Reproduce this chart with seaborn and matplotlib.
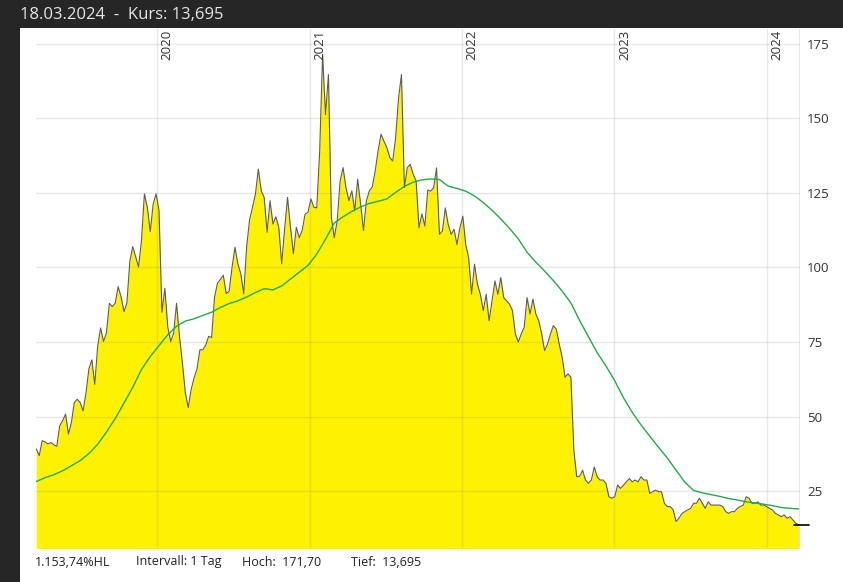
import matplotlib
matplotlib.use('Agg')
import matplotlib.pyplot as plt
import matplotlib.transforms as mtransforms
from matplotlib.patches import Rectangle
import pandas as pd
import seaborn as sns

# weekly closes, 18.03.2019 - 18.03.2024
kurs = [39.1, 36.9, 41.9, 41.5, 40.8, 41.3, 40.5, 40.0, 46.9, 48.6,
        50.8, 44.1, 48.0, 54.7, 55.8, 54.7, 51.9, 58.0, 66.0, 69.0,
        60.8, 73.6, 79.7, 75.2, 78.0, 88.0, 86.9, 88.0, 93.6, 90.2,
        85.2, 88.0, 102.0, 107.0, 103.6, 100.2, 109.1, 124.7, 120.2, 112.0,
        121.3, 124.7, 119.1, 85.0, 93.0, 80.0, 75.2, 78.0, 88.0, 77.0,
        68.0, 58.0, 53.0, 59.1, 63.0, 66.0, 72.4, 72.4, 74.0, 76.9,
        76.5, 90.0, 94.7, 96.0, 97.4, 91.3, 92.0, 100.1, 106.8, 101.2,
        97.9, 91.2, 107.0, 116.0, 120.2, 124.6, 133.0, 125.7, 123.5, 111.8,
        122.4, 114.6, 117.0, 113.5, 101.2, 113.0, 123.5, 113.5, 104.6, 113.5,
        110.0, 112.4, 117.9, 118.5, 123.0, 120.2, 120.0, 139.1, 171.4, 151.3,
        164.7, 116.8, 110.0, 115.7, 129.1, 133.5, 126.8, 122.4, 125.7, 119.0,
        129.6, 121.3, 112.4, 122.4, 125.7, 127.0, 132.4, 139.1, 144.7, 142.4,
        140.2, 136.9, 135.7, 143.5, 156.9, 164.7, 126.8, 133.5, 134.6, 131.3,
        129.1, 113.3, 118.0, 113.9, 126.0, 125.6, 126.7, 133.4, 111.1, 112.2,
        120.0, 114.4, 111.1, 112.8, 107.7, 113.3, 117.2, 107.7, 103.3, 91.0,
        101.1, 94.4, 91.0, 85.5, 91.0, 82.1, 88.8, 95.5, 91.0, 96.6,
        89.9, 88.8, 87.7, 85.5, 77.7, 75.0, 77.7, 79.9, 89.9, 84.4,
        89.4, 84.4, 82.1, 77.7, 72.1, 74.3, 77.7, 80.5, 79.3, 74.3,
        69.9, 63.2, 64.3, 63.2, 38.7, 29.8, 30.0, 32.0, 28.7, 27.6,
        28.7, 33.1, 29.8, 28.7, 28.7, 27.6, 23.1, 22.6, 23.1, 27.0,
        25.9, 27.0, 28.1, 29.2, 28.1, 28.7, 28.1, 29.8, 28.7, 28.7,
        24.2, 24.8, 25.3, 24.8, 24.8, 20.9, 19.8, 19.8, 18.7, 14.8,
        15.9, 17.5, 18.1, 18.7, 19.2, 20.9, 20.9, 22.6, 20.9, 19.2,
        21.4, 20.3, 20.3, 20.3, 20.3, 19.8, 18.1, 17.5, 18.1, 18.1,
        19.2, 19.8, 20.3, 23.1, 22.6, 20.9, 20.9, 21.4, 20.3, 20.3,
        19.8, 19.2, 18.7, 17.5, 17.0, 16.4, 17.0, 15.9, 16.4, 15.3,
        14.2, 13.695]

# moving average (green line), one value every 21 days
gd200 = [28.2, 29.5, 30.5, 31.8, 33.5, 35.2, 37.6, 40.7, 44.8, 49.3,
         54.5, 59.8, 65.8, 70.1, 73.8, 77.4, 80.3, 82.0, 82.8, 83.9,
         85.0, 86.6, 87.9, 88.8, 90.1, 91.6, 92.9, 92.5, 93.8, 96.1,
         98.4, 100.7, 104.5, 109.5, 114.9, 117.0, 118.8, 120.3, 121.5, 122.2,
         123.0, 125.2, 127.2, 128.6, 129.4, 129.7, 129.5, 127.3, 126.5, 125.6,
         124.0, 121.8, 119.2, 116.3, 113.1, 109.6, 105.1, 101.8, 98.8, 95.6,
         92.1, 88.1, 82.2, 76.8, 71.4, 67.0, 62.0, 56.3, 51.4, 47.2,
         43.4, 39.7, 36.1, 32.0, 28.0, 25.2, 24.4, 23.8, 23.2, 22.5,
         22.0, 21.4, 21.0, 20.6, 20.1, 19.5, 19.2, 19.0]

jahre = ['2020', '2021', '2022', '2023', '2024']
y_ticks = [25, 50, 75, 100, 125, 150, 175]
header = '18.03.2024  -  Kurs: 13,695'
footer = ['1.153,74%HL', 'Intervall: 1 Tag', 'Hoch:  171,70', 'Tief:  13,695']

df = pd.DataFrame({'Datum': pd.date_range('2019-03-18', '2024-03-18', freq='7D'),
                   'Kurs': kurs})
ma = pd.DataFrame({'Datum': pd.date_range('2019-03-18', '2024-03-18', freq='21D'),
                   'GD': gd200})

sns.set_theme(style='white')
plt.rcParams['font.family'] = ['Open Sans', 'DejaVu Sans']

fig = plt.figure(figsize=(8.43, 5.82), dpi=100, facecolor='#262626')
# white panel under the chart (dark header and left strip stay)
fig.patches.append(Rectangle((20 / 843, 0), 1, 1 - 28 / 582, transform=fig.transFigure,
                             facecolor='white', edgecolor='none', zorder=-5))
ax = fig.add_axes([35.5 / 843, 34 / 582, (800 - 35.5) / 843, (548 - 29) / 582])
ax.set_zorder(3)
ax.set_facecolor('white')

ymin, ymax = 5.9, 180
ax.fill_between(df['Datum'], ymin - 10, df['Kurs'], color='#fff200', lw=0, zorder=1)
sns.lineplot(data=df, x='Datum', y='Kurs', ax=ax, color='#5c5c5c', lw=0.8, zorder=3)
sns.lineplot(data=ma, x='Datum', y='GD', ax=ax, color='#22a94b', lw=1.0, zorder=4)

ax.set_xlim(pd.Timestamp('2019-03-16'), pd.Timestamp('2024-03-21'))
ax.set_ylim(ymin, ymax)

# grid
for y in y_ticks:
    ax.axhline(y, color='#808080', alpha=0.18, lw=1, zorder=2)
for j in jahre:
    ax.axvline(pd.Timestamp(j + '-01-01'), color='#808080', alpha=0.18, lw=1, zorder=2)
ax.axvline(ax.get_xlim()[1], color='#808080', alpha=0.18, lw=1.5, zorder=2)

# year labels inside at the top
trans = mtransforms.blended_transform_factory(ax.transData, ax.transAxes)
for j in jahre:
    ax.text(pd.Timestamp(j + '-01-10'), 0.998, j, transform=trans, rotation=90,
            ha='left', va='top', fontsize=9.5, color='#333333', zorder=5)

# last price marker
ax.axhline(kurs[-1], xmin=0.992, xmax=1.012, color='black', lw=1.2, clip_on=False, zorder=6)

ax.yaxis.tick_right()
ax.set_yticks(y_ticks)
ax.set_yticklabels([str(v) for v in y_ticks], fontsize=9.5, color='#333333')
ax.tick_params(axis='y', length=0, pad=5)
ax.set_xticks([])
ax.set_xlabel('')
ax.set_ylabel('')
for s in ax.spines.values():
    s.set_visible(False)

fig.text(20 / 843, 1 - 15 / 582, header, fontsize=12, color='#e6e6e6',
         ha='left', va='center')
for txt, xpos in zip(footer, [35, 136, 242, 351]):
    fig.text(xpos / 843, 1 - 562 / 582, txt, fontsize=9, color='#222222',
             ha='left', va='center')

fig.savefig('out.png', dpi=100, facecolor=fig.get_facecolor())
